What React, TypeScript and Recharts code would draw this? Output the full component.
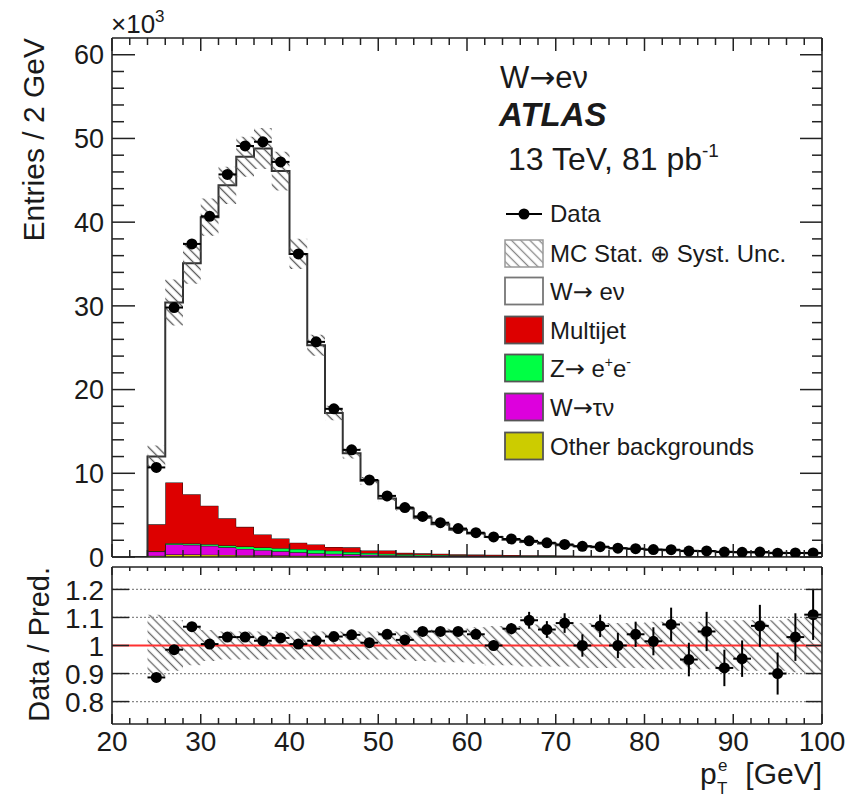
import React from "react";
import {
  ComposedChart,
  Area,
  Scatter,
  XAxis,
  YAxis,
  ErrorBar,
  ReferenceLine,
} from "recharts";

const FONT = '"Liberation Sans", Arial, Helvetica, sans-serif';
const ARROW_FONT = '"DejaVu Sans", "Liberation Sans", sans-serif';
const INK = "#1a1a1a";
const FRAME = "#222";

// electron pT bins, 2 GeV wide, centres from 25 to 99 GeV
const binCenters = [
  25, 27, 29, 31, 33, 35, 37, 39, 41, 43, 45, 47, 49, 51, 53, 55, 57, 59, 61,
  63, 65, 67, 69, 71, 73, 75, 77, 79, 81, 83, 85, 87, 89, 91, 93, 95, 97, 99,
];

// entries per bin, in units of 10^3
const dataCounts = [
  10.7, 29.8, 37.4, 40.7, 45.7, 49.1, 49.6, 47.2, 36.2, 25.7, 17.7, 12.8, 9.2,
  7.3, 5.9, 4.85, 4.1, 3.4, 2.9, 2.4, 2.15, 1.93, 1.7, 1.5, 1.28, 1.23, 1.05,
  1.0, 0.89, 0.87, 0.71, 0.72, 0.59, 0.56, 0.59, 0.46, 0.48, 0.49,
];
const mcTotal = [
  12.0, 30.4, 35.1, 40.6, 44.4, 47.8, 48.8, 46.1, 36.2, 25.3, 17.2, 12.4, 9.1,
  7.0, 5.8, 4.7, 3.9, 3.25, 2.8, 2.4, 2.05, 1.78, 1.6, 1.4, 1.28, 1.15, 1.05,
  0.96, 0.88, 0.81, 0.75, 0.69, 0.64, 0.59, 0.55, 0.51, 0.47, 0.44,
];
const multijet = [
  3.2, 7.25, 5.9, 4.6, 3.25, 2.35, 1.55, 1.15, 0.75, 0.65, 0.45, 0.55, 0.3,
  0.4, 0.17, 0.16, 0.15, 0.13, 0.12, 0.11, 0.1, 0.09, 0.08, 0.07, 0.06, 0.05,
  0.05, 0.04, 0.04, 0.04, 0.03, 0.03, 0.03, 0.03, 0.02, 0.02, 0.02, 0.02,
];
const zee = [
  0.05, 0.15, 0.15, 0.2, 0.22, 0.28, 0.32, 0.38, 0.4, 0.4, 0.37, 0.28, 0.22,
  0.17, 0.14, 0.12, 0.1, 0.09, 0.08, 0.07, 0.06, 0.05, 0.05, 0.04, 0.04, 0.04,
  0.03, 0.03, 0.03, 0.03, 0.02, 0.02, 0.02, 0.02, 0.02, 0.02, 0.02, 0.02,
];
const wtaunu = [
  0.5, 1.2, 1.15, 1.05, 0.9, 0.75, 0.62, 0.5, 0.4, 0.3, 0.25, 0.2, 0.16, 0.13,
  0.11, 0.09, 0.08, 0.07, 0.06, 0.05, 0.045, 0.04, 0.035, 0.03, 0.03, 0.025,
  0.02, 0.02, 0.02, 0.015, 0.015, 0.015, 0.01, 0.01, 0.01, 0.01, 0.01, 0.01,
];
const otherBkg = [
  0.15, 0.3, 0.3, 0.28, 0.25, 0.22, 0.2, 0.18, 0.16, 0.15, 0.13, 0.12, 0.1,
  0.09, 0.08, 0.07, 0.06, 0.05, 0.05, 0.04, 0.04, 0.03, 0.03, 0.03, 0.03, 0.02,
  0.02, 0.02, 0.02, 0.02, 0.02, 0.02, 0.01, 0.01, 0.01, 0.01, 0.01, 0.01,
];
// relative MC stat (+) syst uncertainty
const mcRelUnc = [
  0.11, 0.09, 0.07, 0.055, 0.05, 0.05, 0.05, 0.05, 0.05, 0.05, 0.05, 0.05,
  0.05, 0.05, 0.05, 0.055, 0.06, 0.06, 0.065, 0.07, 0.07, 0.075, 0.075, 0.075,
  0.08, 0.08, 0.08, 0.08, 0.085, 0.085, 0.085, 0.085, 0.09, 0.09, 0.09, 0.09,
  0.095, 0.1,
];
// data / prediction and its statistical error
const ratio = [
  0.886, 0.985, 1.067, 1.005, 1.03, 1.03, 1.017, 1.027, 1.005, 1.017, 1.032,
  1.038, 1.01, 1.04, 1.02, 1.05, 1.05, 1.05, 1.04, 1.0, 1.06, 1.09, 1.057,
  1.08, 1.0, 1.07, 1.0, 1.04, 1.015, 1.075, 0.95, 1.05, 0.92, 0.953, 1.07,
  0.9, 1.03, 1.11,
];
const ratioErr = [
  0.004, 0.004, 0.004, 0.004, 0.004, 0.004, 0.004, 0.004, 0.005, 0.005, 0.006,
  0.007, 0.008, 0.009, 0.01, 0.011, 0.012, 0.014, 0.016, 0.018, 0.02, 0.03,
  0.03, 0.035, 0.04, 0.04, 0.045, 0.045, 0.05, 0.06, 0.06, 0.07, 0.065, 0.065,
  0.075, 0.075, 0.085, 0.09,
];

const xTicks = [
  20, 22, 24, 26, 28, 30, 32, 34, 36, 38, 40, 42, 44, 46, 48, 50, 52, 54, 56,
  58, 60, 62, 64, 66, 68, 70, 72, 74, 76, 78, 80, 82, 84, 86, 88, 90, 92, 94,
  96, 98, 100,
];
const yTicks = [
  0, 2, 4, 6, 8, 10, 12, 14, 16, 18, 20, 22, 24, 26, 28, 30, 32, 34, 36, 38, 40,
  42, 44, 46, 48, 50, 52, 54, 56, 58, 60,
];
const ratioTicks = [0.8, 0.9, 1, 1.1, 1.2];
const ratioGrid = [0.8, 0.9, 1.1, 1.2];

// step rows: one per bin low edge, plus closing edge at 100 GeV
const binRows = binCenters.map((c, i) => {
  const bkg = multijet[i] + zee[i] + wtaunu[i] + otherBkg[i];
  return {
    x: c - 1,
    other: otherBkg[i],
    wtaunu: wtaunu[i],
    zee: zee[i],
    multijet: multijet[i],
    wenu: mcTotal[i] - bkg,
    unc: [mcTotal[i] * (1 - mcRelUnc[i]), mcTotal[i] * (1 + mcRelUnc[i])],
    runc: [1 - mcRelUnc[i], 1 + mcRelUnc[i]],
  };
});
const lastRow = binRows[binRows.length - 1];
const stackRows = [
  { x: 22, other: 0, wtaunu: 0, zee: 0, multijet: 0, wenu: 0, unc: [0, 0] },
  ...binRows,
  { ...lastRow, x: 100 },
];
const ratioRows = [...binRows, { ...lastRow, x: 100 }];
const dataPoints = binCenters.map((c, i) => ({ x: c, y: dataCounts[i], xe: 1 }));
const ratioPoints = binCenters.map((c, i) => ({
  x: c,
  y: ratio[i],
  ye: ratioErr[i],
  xe: 1,
}));

type Side = "left" | "right" | "top" | "bottom";

// ROOT-style inward ticks; labels only on the major ones
function makeTick(
  side: Side,
  majorLen: number,
  minorLen: number,
  isMajor: (v: number) => boolean,
  showLabel = false,
  fontSize = 27
) {
  return (props: any) => {
    const { x, y, payload } = props;
    const v = payload.value as number;
    const major = isMajor(v);
    const len = major ? majorLen : minorLen;
    let line: React.ReactNode = null;
    if (side === "left") line = <line x1={x} y1={y} x2={x + len} y2={y} />;
    if (side === "right") line = <line x1={x} y1={y} x2={x - len} y2={y} />;
    if (side === "top") line = <line x1={x} y1={y} x2={x} y2={y + len} />;
    if (side === "bottom") line = <line x1={x} y1={y} x2={x} y2={y - len} />;
    let label: React.ReactNode = null;
    if (showLabel && major) {
      if (side === "left")
        label = (
          <text
            x={x - 8}
            y={y + fontSize * 0.36}
            textAnchor="end"
            fontSize={fontSize}
            fontFamily={FONT}
            fill={INK}
            stroke="none"
          >
            {String(v)}
          </text>
        );
      if (side === "bottom")
        label = (
          <text
            x={x}
            y={y + 27}
            textAnchor="middle"
            fontSize={fontSize}
            fontFamily={FONT}
            fill={INK}
            stroke="none"
          >
            {String(v)}
          </text>
        );
    }
    return (
      <g stroke={FRAME} strokeWidth={1.5}>
        {line}
        {label}
      </g>
    );
  };
}

const byTen = (v: number) => Math.abs(v % 10) < 1e-6;
const always = () => true;
const axisLine = { stroke: FRAME, strokeWidth: 1.6 };

function Hatch({ id, color }: { id: string; color: string }) {
  return (
    <pattern
      id={id}
      patternUnits="userSpaceOnUse"
      width={6.5}
      height={6.5}
      patternTransform="rotate(-45)"
    >
      <line x1={3.25} y1={0} x2={3.25} y2={6.5} stroke={color} strokeWidth={1.3} />
    </pattern>
  );
}

function Dot(props: any) {
  return <circle cx={props.cx} cy={props.cy} r={5.5} fill="#000" />;
}

function NoDot() {
  return <g />;
}

// axes are 1px thick so that Recharts still draws them; margins compensate.
// The top and right axes only carry the frame ticks, so an empty scatter is
// bound to them to give them a domain.
function MainPanel() {
  return (
    <ComposedChart
      width={865}
      height={575}
      data={stackRows}
      margin={{ top: 37, right: 42, bottom: 17, left: 111 }}
    >
      <defs>
        <Hatch id="mcHatch" color="#555" />
      </defs>
      <XAxis
        xAxisId="b"
        dataKey="x"
        type="number"
        domain={[20, 100]}
        allowDataOverflow
        ticks={xTicks}
        interval={0}
        height={1}
        tickSize={0}
        tickMargin={0}
        tickLine={false}
        axisLine={axisLine}
        tick={makeTick("bottom", 13, 7, byTen)}
      />
      <XAxis
        xAxisId="t"
        dataKey="x"
        orientation="top"
        type="number"
        domain={[20, 100]}
        allowDataOverflow
        ticks={xTicks}
        interval={0}
        height={1}
        tickSize={0}
        tickMargin={0}
        tickLine={false}
        axisLine={axisLine}
        tick={makeTick("top", 13, 7, byTen)}
      />
      <YAxis
        yAxisId="l"
        type="number"
        domain={[0, 62]}
        allowDataOverflow
        ticks={yTicks}
        interval={0}
        width={1}
        tickSize={0}
        tickMargin={0}
        tickLine={false}
        axisLine={axisLine}
        tick={makeTick("left", 23, 12, byTen, true, 27)}
      />
      <YAxis
        yAxisId="r"
        orientation="right"
        type="number"
        domain={[0, 62]}
        allowDataOverflow
        ticks={yTicks}
        interval={0}
        width={1}
        tickSize={0}
        tickMargin={0}
        tickLine={false}
        axisLine={axisLine}
        tick={makeTick("right", 22, 10, byTen)}
      />
      <Area xAxisId="b" yAxisId="l" type="stepAfter" dataKey="other" stackId="mc"
        fill="#cccc00" fillOpacity={1} stroke="#111" strokeWidth={1} isAnimationActive={false} />
      <Area xAxisId="b" yAxisId="l" type="stepAfter" dataKey="wtaunu" stackId="mc"
        fill="#dd00dd" fillOpacity={1} stroke="#111" strokeWidth={1} isAnimationActive={false} />
      <Area xAxisId="b" yAxisId="l" type="stepAfter" dataKey="zee" stackId="mc"
        fill="#00ff44" fillOpacity={1} stroke="#111" strokeWidth={1} isAnimationActive={false} />
      <Area xAxisId="b" yAxisId="l" type="stepAfter" dataKey="multijet" stackId="mc"
        fill="#dd0000" fillOpacity={1} stroke="#111" strokeWidth={1} isAnimationActive={false} />
      <Area xAxisId="b" yAxisId="l" type="stepAfter" dataKey="wenu" stackId="mc"
        fill="#ffffff" fillOpacity={1} stroke="#333" strokeWidth={2} isAnimationActive={false} />
      <Area xAxisId="b" yAxisId="l" type="stepAfter" dataKey="unc"
        fill="url(#mcHatch)" fillOpacity={1} stroke="none" isAnimationActive={false} />
      <Scatter xAxisId="b" yAxisId="l" data={dataPoints} dataKey="y" shape={Dot}
        isAnimationActive={false}>
        <ErrorBar dataKey="xe" direction="x" width={0} stroke="#000" strokeWidth={2}
          isAnimationActive={false} />
      </Scatter>
      <Scatter xAxisId="t" yAxisId="r" data={dataPoints} dataKey="y" shape={NoDot}
        isAnimationActive={false} />
    </ComposedChart>
  );
}

function RatioPanel() {
  return (
    <ComposedChart
      width={865}
      height={236}
      data={ratioRows}
      margin={{ top: 4, right: 42, bottom: 73, left: 111 }}
    >
      <defs>
        <Hatch id="ratioHatch" color="#666" />
      </defs>
      <XAxis
        xAxisId="b"
        dataKey="x"
        type="number"
        domain={[20, 100]}
        allowDataOverflow
        ticks={xTicks}
        interval={0}
        height={1}
        tickSize={0}
        tickMargin={0}
        tickLine={false}
        axisLine={axisLine}
        tick={makeTick("bottom", 10, 6, byTen, true, 28)}
      />
      <XAxis
        xAxisId="t"
        dataKey="x"
        orientation="top"
        type="number"
        domain={[20, 100]}
        allowDataOverflow
        ticks={xTicks}
        interval={0}
        height={1}
        tickSize={0}
        tickMargin={0}
        tickLine={false}
        axisLine={axisLine}
        tick={makeTick("top", 8, 4, byTen)}
      />
      <YAxis
        yAxisId="l"
        type="number"
        domain={[0.72, 1.28]}
        allowDataOverflow
        ticks={ratioTicks}
        interval={0}
        width={1}
        tickSize={0}
        tickMargin={0}
        tickLine={false}
        axisLine={axisLine}
        tick={makeTick("left", 17, 17, always, true, 28)}
      />
      <YAxis
        yAxisId="r"
        orientation="right"
        type="number"
        domain={[0.72, 1.28]}
        allowDataOverflow
        ticks={ratioTicks}
        interval={0}
        width={1}
        tickSize={0}
        tickMargin={0}
        tickLine={false}
        axisLine={axisLine}
        tick={makeTick("right", 16, 16, always)}
      />
      <Area xAxisId="b" yAxisId="l" type="stepAfter" dataKey="runc"
        fill="url(#ratioHatch)" fillOpacity={1} stroke="none" isAnimationActive={false} />
      {ratioGrid.map((g) => (
        <ReferenceLine key={g} xAxisId="b" yAxisId="l" y={g} stroke="#888"
          strokeWidth={1.2} strokeDasharray="2 2" />
      ))}
      <ReferenceLine xAxisId="b" yAxisId="l" y={1} stroke="#ff3030" strokeWidth={2} />
      <Scatter xAxisId="b" yAxisId="l" data={ratioPoints} dataKey="y" shape={Dot}
        isAnimationActive={false}>
        <ErrorBar dataKey="ye" direction="y" width={0} stroke="#000" strokeWidth={2}
          isAnimationActive={false} />
        <ErrorBar dataKey="xe" direction="x" width={0} stroke="#000" strokeWidth={2}
          isAnimationActive={false} />
      </Scatter>
      <Scatter xAxisId="t" yAxisId="r" data={ratioPoints} dataKey="y" shape={NoDot}
        isAnimationActive={false} />
    </ComposedChart>
  );
}

const legendRows = [
  { key: "wenu", fill: "#ffffff", edge: "#777" },
  { key: "multijet", fill: "#dd0000", edge: "#555" },
  { key: "zee", fill: "#00ff44", edge: "#555" },
  { key: "wtaunu", fill: "#dd00dd", edge: "#555" },
  { key: "other", fill: "#cccc00", edge: "#555" },
];

function Arrow() {
  return <tspan fontFamily={ARROW_FONT}>{"\u2192"}</tspan>;
}

function legendLabel(key: string) {
  if (key === "wenu")
    return (
      <>
        W<Arrow /> e{"\u03bd"}
      </>
    );
  if (key === "multijet") return "Multijet";
  if (key === "zee")
    return (
      <>
        Z<Arrow /> e<tspan fontSize={14} dy={-10}>+</tspan>
        <tspan dy={10}>e</tspan>
        <tspan fontSize={14} dy={-10}>-</tspan>
      </>
    );
  if (key === "wtaunu")
    return (
      <>
        W<Arrow />
        {"\u03c4\u03bd"}
      </>
    );
  return "Other backgrounds";
}

function Annotations() {
  const t = { fontFamily: FONT, fill: INK } as const;
  const rowY = [291, 330, 368, 407, 446];
  return (
    <svg
      width={865}
      height={798}
      style={{ position: "absolute", left: 0, top: 0, pointerEvents: "none" }}
    >
      <defs>
        <Hatch id="legendHatch" color="#888" />
      </defs>
      {/* axis titles */}
      <text {...t} x={111} y={33} fontSize={26}>
        {"\u00d710"}
        <tspan fontSize={17} dy={-11}>3</tspan>
      </text>
      <text {...t} fontSize={30} textAnchor="end" transform="translate(44,38) rotate(-90)">
        Entries / 2 GeV
      </text>
      <text {...t} fontSize={29} textAnchor="end" transform="translate(49,567) rotate(-90)">
        Data / Pred.
      </text>
      <text {...t} x={700} y={784} fontSize={30}>p</text>
      <text {...t} x={718} y={771} fontSize={17}>e</text>
      <text {...t} x={717} y={794} fontSize={17}>T</text>
      <text {...t} x={822} y={784} fontSize={30} textAnchor="end">[GeV]</text>

      {/* labels */}
      <text {...t} x={500} y={88} fontSize={31}>
        W<Arrow />e{"\u03bd"}
      </text>
      <text {...t} x={499} y={126} fontSize={33} fontWeight="bold" fontStyle="italic">
        ATLAS
      </text>
      <text {...t} x={508} y={170} fontSize={32}>
        13 TeV, 81 pb
        <tspan fontSize={19} dy={-13}>-1</tspan>
      </text>

      {/* legend */}
      <line x1={506} y1={214} x2={542} y2={214} stroke="#000" strokeWidth={2} />
      <circle cx={524} cy={214} r={5.5} fill="#000" />
      <text {...t} x={550} y={222} fontSize={24}>Data</text>
      <rect x={505} y={240} width={38} height={27} fill="url(#legendHatch)"
        stroke="#999" strokeWidth={1.5} />
      <text {...t} x={550} y={262} fontSize={24}>MC Stat. {"\u2295"} Syst. Unc.</text>
      {legendRows.map((r, i) => (
        <g key={r.key}>
          <rect x={505} y={rowY[i] - 13.5} width={38} height={27} fill={r.fill}
            stroke={r.edge} strokeWidth={1.8} />
          <text {...t} x={550} y={rowY[i] + 8.5} fontSize={24}>
            {legendLabel(r.key)}
          </text>
        </g>
      ))}
    </svg>
  );
}

export default function App() {
  return (
    <div
      style={{
        position: "absolute",
        left: 0,
        top: 0,
        width: 865,
        height: 798,
        background: "#fff",
        overflow: "hidden",
      }}
    >
      <div style={{ position: "absolute", left: 0, top: 0 }}>
        <MainPanel />
      </div>
      <div style={{ position: "absolute", left: 0, top: 562 }}>
        <RatioPanel />
      </div>
      <Annotations />
    </div>
  );
}
